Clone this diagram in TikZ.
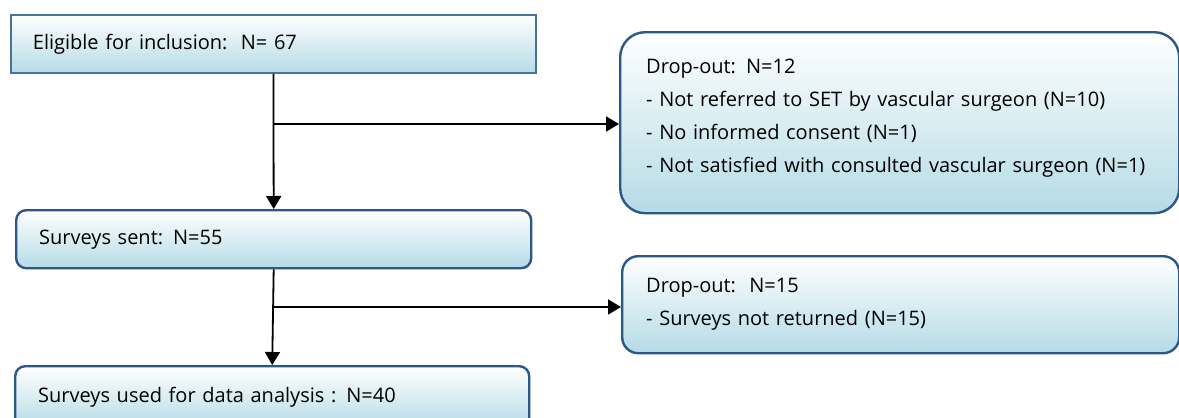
\documentclass[tikz,border=0pt]{standalone}
\usepackage{fontspec}
\setmainfont{Open Sans}
\usepackage{xcolor}
\usetikzlibrary{shapes, arrows, arrows.meta, positioning, calc}
\definecolor{boxline}{HTML}{2B5789}
\definecolor{boxfill}{HTML}{B5DBE6}
\tikzset{
    flowbox/.style={rectangle, draw=boxline, line width=2.4pt, top color=white, bottom color=boxfill,
        anchor=north west, align=left, inner ysep=0pt, font=\fontsize{20}{33}\selectfont},
    arrow/.style={->, >={Triangle[length=13pt, width=15pt]}, line width=1.8pt}
}

\begin{document}
\begin{tikzpicture}[x=1pt, y=-1pt]
    \useasboundingbox (0,0) rectangle (1179,418);

    \node[flowbox, line width=1.8pt, draw=boxline!85, inner xsep=22pt, text width=481pt, minimum height=58pt] (elig) at (10,14) {Eligible for inclusion:~~N= 67};
    \node[flowbox, rounded corners=25pt, inner xsep=26pt, text width=507pt, minimum height=181pt] (drop1) at (619,31)
        {Drop-out: N=12\\- Not referred to SET by vascular surgeon (N=10)\\- No informed consent (N=1)\\- Not satisfied with consulted vascular surgeon (N=1)\\[-20pt]\mbox{}};
    \node[flowbox, rounded corners=10pt, inner xsep=23pt, text width=469pt, minimum height=58pt] (sent) at (15,209) {Surveys sent: N=55};
    \node[flowbox, rounded corners=16pt, inner xsep=24pt, text width=509pt, minimum height=97pt] (drop2) at (621,255)
        {Drop-out:~~N=15\\- Surveys not returned (N=15)};
    \node[flowbox, rounded corners=10pt, inner xsep=23pt, text width=468pt, minimum height=62pt] (used) at (14,365) {Surveys used for data analysis : N=40};

    \coordinate (b1) at (272.5,124);
    \coordinate (b2) at (272.5,307);

    \draw[arrow] (elig.south) -- (sent.north);
    \draw[arrow] (b1) -- (b1 -| drop1.west);
    \draw[arrow] (sent.south) -- (used.north);
    \draw[arrow] (b2) -- (b2 -| drop2.west);
\end{tikzpicture}
\end{document}
